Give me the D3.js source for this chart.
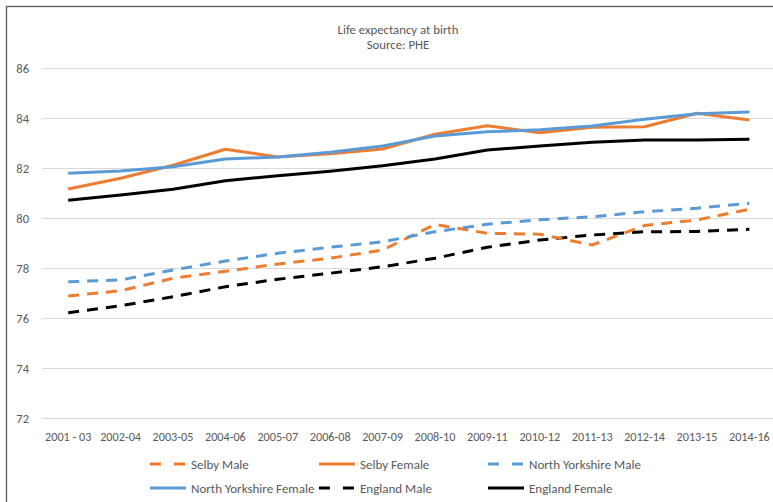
<!DOCTYPE html>
<html>
<head>
<meta charset="utf-8">
<script src="https://cdn.jsdelivr.net/npm/d3@7"></script>
<style>
  html, body { margin: 0; padding: 0; background: #fff; }
  svg { display: block; font-family: Carlito, Calibri, Lato, sans-serif; }
</style>
</head>
<body>
<div id="chart"></div>
<script>
const periods = ['2001 - 03', '2002-04', '2003-05', '2004-06', '2005-07', '2006-08', '2007-09',
  '2008-10', '2009-11', '2010-12', '2011-13', '2012-14', '2013-15', '2014-16'];

const selbyMale = [76.88, 77.09, 77.59, 77.87, 78.16, 78.39, 78.72, 79.74, 79.39, 79.35, 78.92, 79.70, 79.92, 80.35];
const selbyFemale = [81.16, 81.59, 82.11, 82.75, 82.44, 82.57, 82.76, 83.35, 83.69, 83.41, 83.63, 83.65, 84.19, 83.92];
const nyMale = [77.45, 77.52, 77.92, 78.28, 78.59, 78.83, 79.05, 79.45, 79.75, 79.93, 80.05, 80.25, 80.39, 80.59];
const nyFemale = [81.79, 81.88, 82.05, 82.36, 82.44, 82.63, 82.88, 83.28, 83.45, 83.53, 83.68, 83.95, 84.17, 84.24];
const englandMale = [76.21, 76.49, 76.85, 77.25, 77.55, 77.79, 78.05, 78.39, 78.83, 79.12, 79.32, 79.45, 79.46, 79.55];
const englandFemale = [80.71, 80.92, 81.15, 81.49, 81.69, 81.87, 82.09, 82.36, 82.72, 82.88, 83.03, 83.12, 83.12, 83.15];

const yTicks = [72, 74, 76, 78, 80, 82, 84, 86];

const series = [
  { name: 'Selby Male', values: selbyMale, color: '#ED7D31', dashed: true },
  { name: 'Selby Female', values: selbyFemale, color: '#ED7D31', dashed: false },
  { name: 'North Yorkshire Male', values: nyMale, color: '#5B9BD5', dashed: true },
  { name: 'North Yorkshire Female', values: nyFemale, color: '#5B9BD5', dashed: false },
  { name: 'England Male', values: englandMale, color: '#000000', dashed: true },
  { name: 'England Female', values: englandFemale, color: '#000000', dashed: false },
];

const W = 773, H = 502;
const svg = d3.select('#chart').append('svg')
  .attr('width', W)
  .attr('height', H);

// chart area border (cropped at right and bottom)
svg.append('rect')
  .attr('x', 6.5).attr('y', 6.5)
  .attr('width', W + 20).attr('height', H + 20)
  .attr('fill', '#fff')
  .attr('stroke', '#595959')
  .attr('stroke-width', 1.3);

svg.append('text')
  .attr('x', 398).attr('y', 34)
  .attr('text-anchor', 'middle')
  .attr('font-size', '12.8px')
  .attr('fill', '#595959')
  .text('Life expectancy at birth');

svg.append('text')
  .attr('x', 398).attr('y', 49)
  .attr('text-anchor', 'middle')
  .attr('font-size', '12.8px')
  .attr('fill', '#595959')
  .text('Source: PHE');

const plotLeft = 42, plotTop = 68, plotBottom = 418;
const step = 52.4;

const x = d3.scalePoint()
  .domain(periods)
  .range([plotLeft + step / 2, plotLeft + step / 2 + step * (periods.length - 1)]);

const y = d3.scaleLinear()
  .domain([72, 86])
  .range([plotBottom, plotTop]);

// gridlines
svg.append('g')
  .selectAll('line')
  .data(yTicks)
  .join('line')
  .attr('x1', plotLeft)
  .attr('x2', W)
  .attr('y1', d => Math.round(y(d)) + 0.5)
  .attr('y2', d => Math.round(y(d)) + 0.5)
  .attr('stroke', '#D9D9D9')
  .attr('stroke-width', 1);

// y tick labels
svg.append('g')
  .selectAll('text')
  .data(yTicks)
  .join('text')
  .attr('x', 29)
  .attr('y', d => y(d) + 4.5)
  .attr('text-anchor', 'end')
  .attr('font-size', '12.5px')
  .attr('fill', '#595959')
  .text(d => d);

// x tick labels
svg.append('g')
  .selectAll('text')
  .data(periods)
  .join('text')
  .attr('x', d => x(d))
  .attr('y', 441)
  .attr('text-anchor', 'middle')
  .attr('font-size', '12.2px')
  .attr('fill', '#595959')
  .text(d => d);

const line = d3.line()
  .x((d, i) => x(periods[i]))
  .y(d => y(d));

// males underneath, females on top
const ordered = [4, 0, 2, 5, 1, 3].map(i => series[i]);

svg.append('g')
  .selectAll('path')
  .data(ordered)
  .join('path')
  .attr('d', d => line(d.values))
  .attr('fill', 'none')
  .attr('stroke', d => d.color)
  .attr('stroke-width', 3)
  .attr('stroke-linejoin', 'round')
  .attr('stroke-dasharray', d => d.dashed ? '11,8' : null);

// legend
const legendCols = [150, 319, 488];
const legendRows = [464, 488];

const leg = svg.append('g')
  .selectAll('g')
  .data(series)
  .join('g')
  .attr('transform', (d, i) => `translate(${legendCols[i % 3]},${legendRows[Math.floor(i / 3)]})`);

leg.append('line')
  .attr('x1', 0).attr('x2', 36)
  .attr('y1', 0).attr('y2', 0)
  .attr('stroke', d => d.color)
  .attr('stroke-width', 3)
  .attr('stroke-dasharray', d => d.dashed ? '11,13' : null);

leg.append('text')
  .attr('x', 41)
  .attr('y', 4.5)
  .attr('font-size', '13px')
  .attr('fill', '#595959')
  .text(d => d.name);
</script>
</body>
</html>
